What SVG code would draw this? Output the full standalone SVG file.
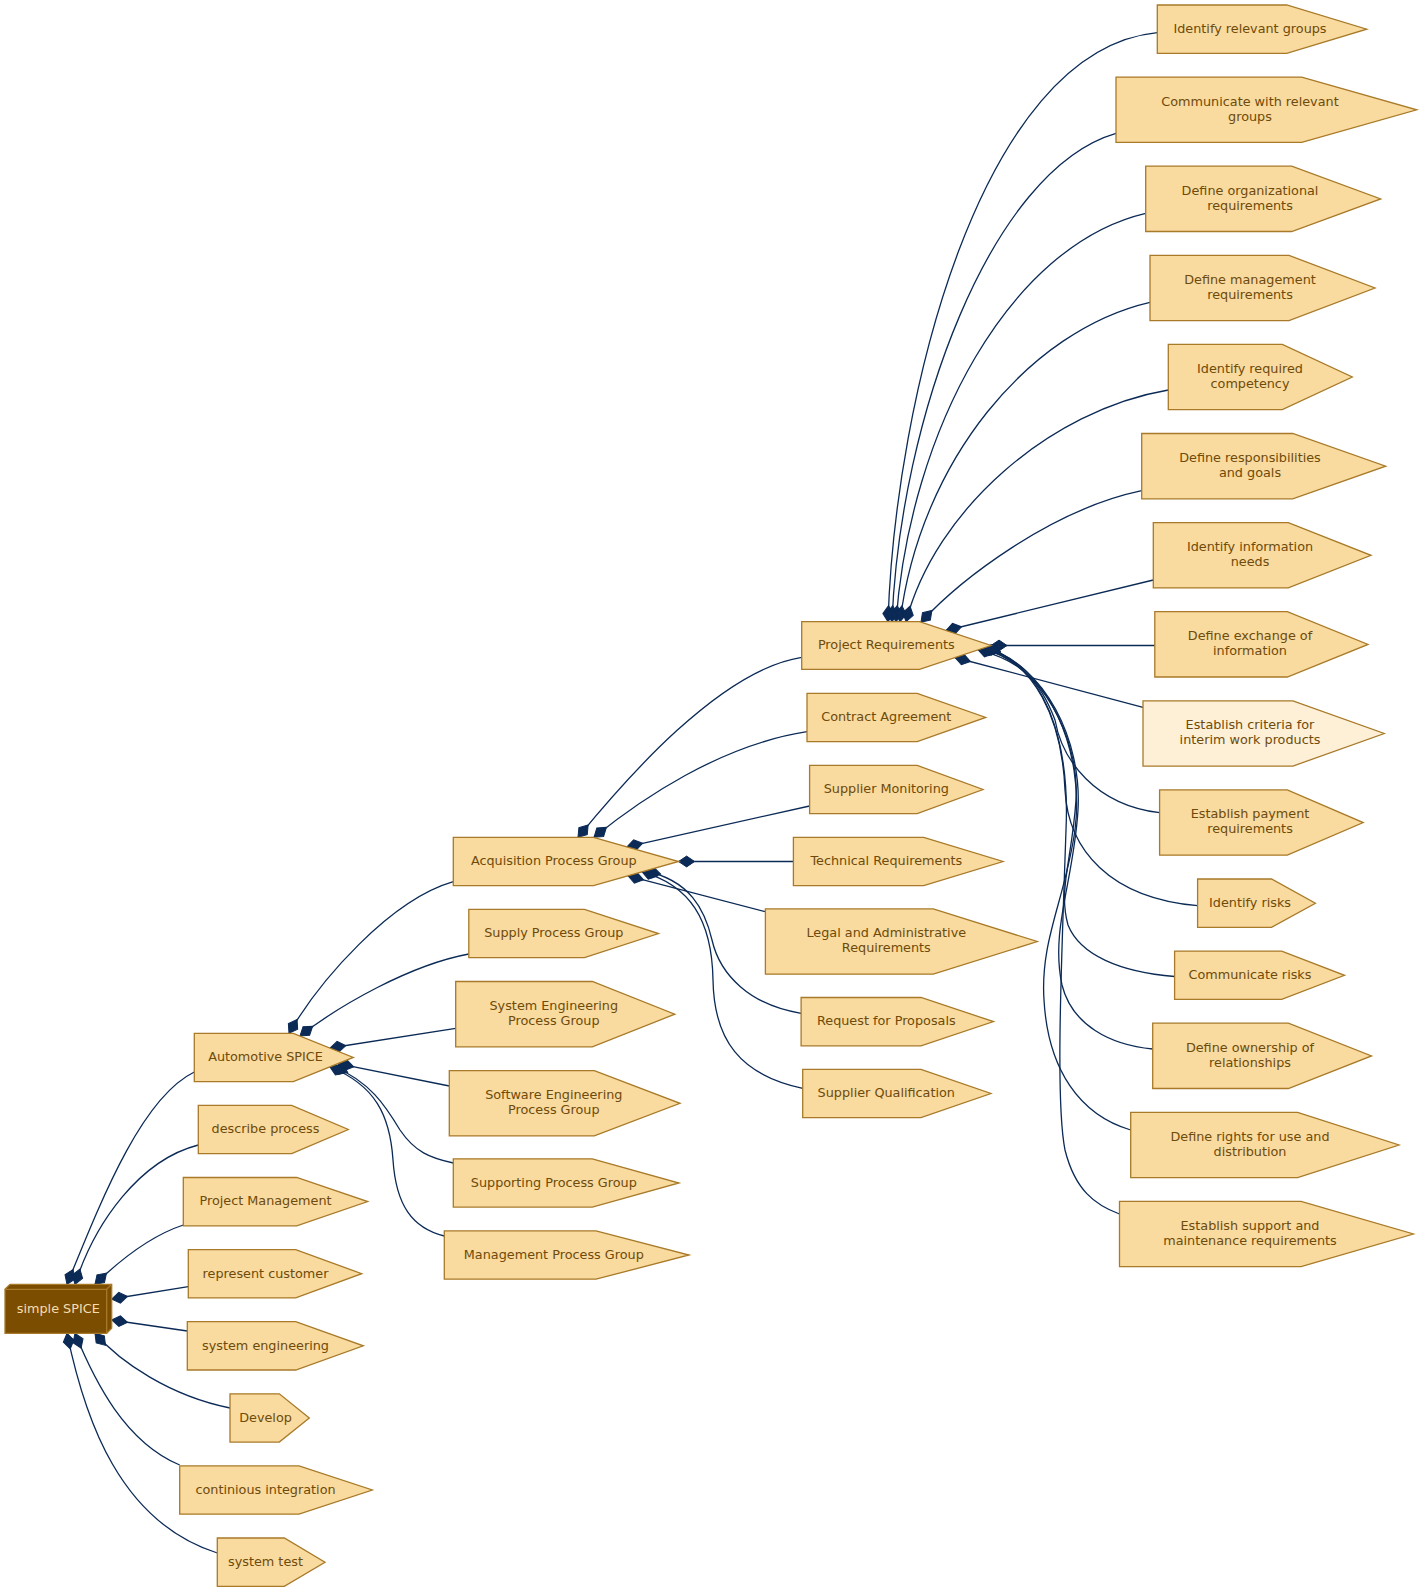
<svg xmlns="http://www.w3.org/2000/svg" width="1421" height="1591" viewBox="0 0 1421 1591">
<style>
.n polygon{fill:#F9DA9F;stroke:#A87A29;stroke-width:1.3}
.n.lt polygon{fill:#FEEFD7}
.n text,.r text{font-family:"DejaVu Sans","Liberation Sans",sans-serif;font-size:12.8px;fill:#6E4B0A;text-anchor:middle}
.r text{fill:#F6DDB0}
.r path{fill:#7A4D00;stroke:#A87A29;stroke-width:1.3}
.r path.l{fill:none}
#edges path{fill:none;stroke:#0B2A56;stroke-width:1.3;marker-start:url(#dia)}
</style>
<defs>
<marker id="dia" markerUnits="userSpaceOnUse" markerWidth="18" markerHeight="12" refX="0" refY="6" viewBox="0 0 18 12" orient="auto" overflow="visible">
<path d="M0,6 L8,0.6 L16,6 L8,11.4 Z" fill="#0B2A56" stroke="#0B2A56" stroke-width="1"/>
</marker>
</defs>
<rect width="1421" height="1591" fill="#ffffff"/>

<g id="edges">
<!-- root -->
<path d="M67,1284.3 C101,1201 141,1098 194.3,1072"/>
<path d="M75,1284.3 C95,1222 140,1160 198.3,1145"/>
<path d="M95,1284.3 C120,1260 150,1236 183.3,1225"/>
<path d="M111.7,1299 L188.3,1286.7"/>
<path d="M111.7,1320 L187.3,1331"/>
<path d="M95,1333.3 C120,1362 170,1396 230,1408"/>
<path d="M75,1333.3 C95,1382 125,1442 179.7,1465"/>
<path d="M67,1333.3 C85,1420 120,1522 217.3,1553"/>
<!-- Automotive SPICE -->
<path d="M289,1033.3 C320,980 390,900 453.3,881.7"/>
<path d="M300,1036 C340,1005 410,965 468.8,954"/>
<path d="M330,1048 L455.7,1028.3"/>
<path d="M338,1063.6 L449.3,1086"/>
<path d="M333,1066 C370,1082 385,1105 400,1130 C415,1152 430,1158 453.3,1163"/>
<path d="M330,1067 C375,1085 390,1115 393,1160 C396,1205 412,1228 444.3,1236"/>
<!-- Acquisition -->
<path d="M578,837.3 C625,780 720,670 801.7,657.3"/>
<path d="M594,837.3 C640,800 720,745 807,731.7"/>
<path d="M627,846.8 L809.6,806"/>
<path d="M678.6,861.5 L793.4,861.5"/>
<path d="M628,875.8 L765.4,911.7"/>
<path d="M645,871 C690,880 705,910 712,940 C720,975 750,1005 801.1,1013.3"/>
<path d="M642,871.8 C690,885 712,920 713,980 C714,1040 740,1075 802.7,1088.3"/>
<!-- Project Requirements -->
<path d="M888,621.7 C895,400 980,50 1157.3,32.7"/>
<path d="M892,621.7 C900,420 990,170 1116,133.3"/>
<path d="M896,621.7 C910,430 1010,245 1145.7,213.3"/>
<path d="M900,621.7 C920,460 1030,330 1150,302.3"/>
<path d="M906,621.7 C935,510 1050,410 1168.3,390"/>
<path d="M921,622.2 C960,580 1050,510 1141.7,490.7"/>
<path d="M946,630.5 L1153.3,580"/>
<path d="M991,645.5 L1154.8,645.5"/>
<path d="M955,657.5 L1143,707.3"/>
<path d="M978,649.8 C1020,660 1040,680 1055,720 C1062,760 1095,805 1159.6,812.7"/>
<path d="M982,648.5 C1035,660 1062,720 1065,790 C1068,850 1110,898 1197.6,905.7"/>
<path d="M982,648.5 C1042,663 1080,740 1076,800 C1072,860 1058,890 1068,925 C1080,955 1120,972 1174.6,976.5"/>
<path d="M985,647.5 C1045,665 1082,740 1078,810 C1074,880 1050,930 1062,985 C1072,1025 1110,1045 1152.7,1049"/>
<path d="M985,647.5 C1048,665 1085,750 1075,830 C1065,900 1040,940 1044,1000 C1048,1070 1080,1115 1130.7,1130"/>
<path d="M985,647.5 C1045,665 1070,740 1066,830 C1062,950 1055,1100 1065,1150 C1075,1190 1095,1205 1119.5,1214"/>
</g>

<g id="simple_SPICE" class="r">
<path d="M5,1289.3 L10,1284.3 L111.7,1284.3 L111.7,1328.3 L106.7,1333.3 L5,1333.3 Z"/>
<path class="l" d="M5,1289.3 L106.7,1289.3 L106.7,1333.3 M106.7,1289.3 L111.7,1284.3"/>
<text x="58.3" y="1313">simple SPICE</text>
</g>

<!-- column 1 -->
<g id="automotive_spice" class="n"><polygon points="194.3,1033.3 293.3,1033.3 353.3,1057.4 293.3,1081.6 194.3,1081.6"/><text x="265.5" y="1061.2">Automotive SPICE</text></g>
<g id="describe_process" class="n"><polygon points="198.3,1105.4 291.7,1105.4 348.3,1129.5 291.7,1153.7 198.3,1153.7"/><text x="265.5" y="1133.3">describe process</text></g>
<g id="project_management" class="n"><polygon points="183.3,1177.5 296.7,1177.5 367.7,1201.6 296.7,1225.8 183.3,1225.8"/><text x="265.5" y="1205.4">Project Management</text></g>
<g id="represent_customer" class="n"><polygon points="188.3,1249.6 295.7,1249.6 361.7,1273.7 295.7,1297.9 188.3,1297.9"/><text x="265.5" y="1277.5">represent customer</text></g>
<g id="system_engineering" class="n"><polygon points="187.3,1321.7 295.7,1321.7 363.3,1345.8 295.7,1370 187.3,1370"/><text x="265.5" y="1349.6">system engineering</text></g>
<g id="develop" class="n"><polygon points="230,1393.8 279.3,1393.8 309.3,1418 279.3,1442.1 230,1442.1"/><text x="265.5" y="1421.8">Develop</text></g>
<g id="continious_integration" class="n"><polygon points="179.7,1465.9 299,1465.9 372.3,1490 299,1514.2 179.7,1514.2"/><text x="265.5" y="1493.8">continious integration</text></g>
<g id="system_test" class="n"><polygon points="217.3,1538 284.3,1538 325,1562.2 284.3,1586.3 217.3,1586.3"/><text x="265.5" y="1566">system test</text></g>

<!-- column 2 -->
<g id="acquisition" class="n"><polygon points="453.3,837.3 593.5,837.3 678.6,861.5 593.5,885.6 453.3,885.6"/><text x="553.8" y="865.3">Acquisition Process Group</text></g>
<g id="supply" class="n"><polygon points="468.8,909.4 584.5,909.4 658.5,933.6 584.5,957.7 468.8,957.7"/><text x="553.8" y="937.4">Supply Process Group</text></g>
<g id="system_eng_pg" class="n"><polygon points="455.7,981.5 592.3,981.5 674.8,1014.2 592.3,1046.8 455.7,1046.8"/><text x="553.8" y="1010">System Engineering</text><text x="553.8" y="1025">Process Group</text></g>
<g id="software_eng_pg" class="n"><polygon points="449.3,1070.6 594.3,1070.6 680,1103.3 594.3,1135.9 449.3,1135.9"/><text x="553.8" y="1099.1">Software Engineering</text><text x="553.8" y="1114.1">Process Group</text></g>
<g id="supporting_pg" class="n"><polygon points="453.3,1158.8 592.3,1158.8 679,1183 592.3,1207.1 453.3,1207.1"/><text x="553.8" y="1186.8">Supporting Process Group</text></g>
<g id="management_pg" class="n"><polygon points="444.3,1230.9 596,1230.9 689,1255 596,1279.2 444.3,1279.2"/><text x="553.8" y="1258.8">Management Process Group</text></g>

<!-- column 3 -->
<g id="project_requirements" class="n"><polygon points="801.7,621.7 919.5,621.7 991,645.5 919.5,669.3 801.7,669.3"/><text x="886.3" y="649.3">Project Requirements</text></g>
<g id="contract_agreement" class="n"><polygon points="807,693.3 917.2,693.3 985.7,717.4 917.2,741.6 807,741.6"/><text x="886.3" y="721.2">Contract Agreement</text></g>
<g id="supplier_monitoring" class="n"><polygon points="809.6,765.4 917.2,765.4 983,789.5 917.2,813.7 809.6,813.7"/><text x="886.3" y="793.3">Supplier Monitoring</text></g>
<g id="technical_requirements" class="n"><polygon points="793.4,837.3 923.7,837.3 1003,861.5 923.7,885.6 793.4,885.6"/><text x="886.3" y="865.3">Technical Requirements</text></g>
<g id="legal_admin" class="n"><polygon points="765.4,908.9 933.3,908.9 1037.3,941.5 933.3,974.2 765.4,974.2"/><text x="886.3" y="937.3">Legal and Administrative</text><text x="886.3" y="952.3">Requirements</text></g>
<g id="request_for_proposals" class="n"><polygon points="801.1,997.5 921,997.5 993.5,1021.6 921,1045.8 801.1,1045.8"/><text x="886.3" y="1025.4">Request for Proposals</text></g>
<g id="supplier_qualification" class="n"><polygon points="802.7,1069.3 921,1069.3 990.9,1093.5 921,1117.6 802.7,1117.6"/><text x="886.3" y="1097.3">Supplier Qualification</text></g>

<!-- column 4 -->
<g id="identify_relevant_groups" class="n"><polygon points="1157.3,5 1286.7,5 1366.7,29.2 1286.7,53.3 1157.3,53.3"/><text x="1250" y="33">Identify relevant groups</text></g>
<g id="communicate_relevant_groups" class="n"><polygon points="1116,77.1 1301.7,77.1 1416.7,109.8 1301.7,142.4 1116,142.4"/><text x="1250" y="105.6">Communicate with relevant</text><text x="1250" y="120.6">groups</text></g>
<g id="define_org_req" class="n"><polygon points="1145.7,166.2 1291.7,166.2 1380.7,198.9 1291.7,231.5 1145.7,231.5"/><text x="1250" y="194.7">Define organizational</text><text x="1250" y="209.7">requirements</text></g>
<g id="define_mgmt_req" class="n"><polygon points="1150,255.3 1289,255.3 1375,288 1289,320.6 1150,320.6"/><text x="1250" y="283.8">Define management</text><text x="1250" y="298.8">requirements</text></g>
<g id="identify_competency" class="n"><polygon points="1168.3,344.4 1282.3,344.4 1352.3,377 1282.3,409.7 1168.3,409.7"/><text x="1250" y="372.8">Identify required</text><text x="1250" y="387.8">competency</text></g>
<g id="define_responsibilities" class="n"><polygon points="1141.7,433.5 1292.7,433.5 1385.7,466.2 1292.7,498.8 1141.7,498.8"/><text x="1250" y="462">Define responsibilities</text><text x="1250" y="477">and goals</text></g>
<g id="identify_info_needs" class="n"><polygon points="1153.3,522.6 1288.3,522.6 1371,555.3 1288.3,587.9 1153.3,587.9"/><text x="1250" y="551.1">Identify information</text><text x="1250" y="566.1">needs</text></g>
<g id="define_exchange" class="n"><polygon points="1154.8,611.7 1287.3,611.7 1368,644.4 1287.3,677 1154.8,677"/><text x="1250" y="640.2">Define exchange of</text><text x="1250" y="655.2">information</text></g>
<g id="establish_criteria" class="n lt"><polygon points="1143,700.8 1292.9,700.8 1384.2,733.5 1292.9,766.1 1143,766.1"/><text x="1250" y="729.3">Establish criteria for</text><text x="1250" y="744.3">interim work products</text></g>
<g id="establish_payment" class="n"><polygon points="1159.6,789.9 1287.3,789.9 1363.2,822.6 1287.3,855.2 1159.6,855.2"/><text x="1250" y="818.4">Establish payment</text><text x="1250" y="833.4">requirements</text></g>
<g id="identify_risks" class="n"><polygon points="1197.6,879 1271.5,879 1315.4,903.2 1271.5,927.3 1197.6,927.3"/><text x="1250" y="907">Identify risks</text></g>
<g id="communicate_risks" class="n"><polygon points="1174.6,951.1 1281.7,951.1 1344.5,975.3 1281.7,999.4 1174.6,999.4"/><text x="1250" y="979.1">Communicate risks</text></g>
<g id="define_ownership" class="n"><polygon points="1152.7,1023.2 1288.4,1023.2 1371.5,1055.9 1288.4,1088.5 1152.7,1088.5"/><text x="1250" y="1051.7">Define ownership of</text><text x="1250" y="1066.7">relationships</text></g>
<g id="define_rights" class="n"><polygon points="1130.7,1112.3 1297.6,1112.3 1399,1145 1297.6,1177.6 1130.7,1177.6"/><text x="1250" y="1140.8">Define rights for use and</text><text x="1250" y="1155.8">distribution</text></g>
<g id="establish_support" class="n"><polygon points="1119.5,1201.4 1301.1,1201.4 1413.4,1234 1301.1,1266.7 1119.5,1266.7"/><text x="1250" y="1229.8">Establish support and</text><text x="1250" y="1244.8">maintenance requirements</text></g>
</svg>
